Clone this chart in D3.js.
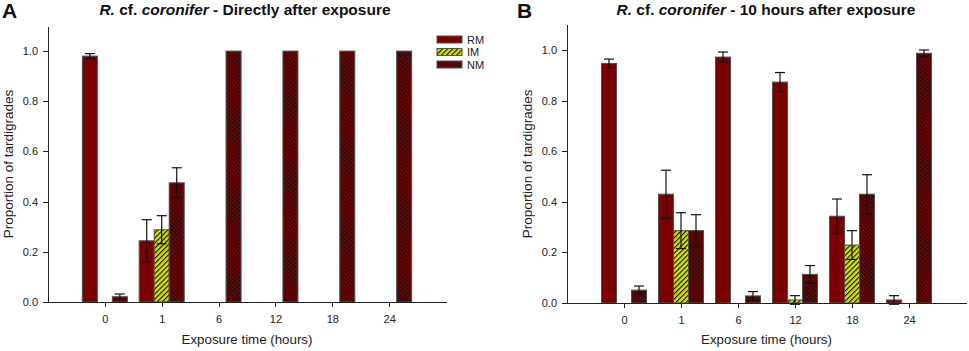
<!DOCTYPE html>
<html>
<head>
<meta charset="utf-8">
<script src="https://cdn.jsdelivr.net/npm/d3@7"></script>
<style>
  body { margin: 0; background: #fff; }
  svg { display: block; font-family: Arial, 'Liberation Sans', sans-serif; }
  .axis path, .axis line { stroke: #222; shape-rendering: crispEdges; }
  .axis text { fill: #222; font-size: 11px; }
</style>
</head>
<body>
<svg id="chart" width="969" height="351"></svg>
<script>
const width = 969,
  height = 351,
  barWidth = 15;

const times = ['0', '1', '6', '12', '18', '24'];
const series = ['RM', 'IM', 'NM'];
const yTicks = [0, 0.2, 0.4, 0.6, 0.8, 1.0];

// A - directly after exposure
const aRM = [0.98, 0.244, 0, 0, 0, 0];
const aRMErr = [0.01, 0.084, 0, 0, 0, 0];
const aIM = [0, 0.288, 0, 0, 0, 0];
const aIMErr = [0, 0.056, 0, 0, 0, 0];
const aNM = [0.021, 0.475, 1, 1, 1, 1];
const aNMErr = [0.011, 0.06, 0, 0, 0, 0];

// B - 10 hours after exposure
const bRM = [0.947, 0.43, 0.972, 0.873, 0.343, 0.012];
const bRMErr = [0.017, 0.095, 0.02, 0.038, 0.068, 0.017];
const bIM = [0, 0.286, 0, 0.012, 0.229, 0];
const bIMErr = [0, 0.071, 0, 0.017, 0.057, 0];
const bNM = [0.051, 0.286, 0.028, 0.113, 0.43, 0.987];
const bNMErr = [0.016, 0.063, 0.017, 0.035, 0.077, 0.013];

const fills = { RM: '#7d0000', IM: 'url(#hatchIM)', NM: 'url(#hatchNM)' };

const svg = d3.select('#chart');

/* hatch patterns */
const defs = svg.append('defs');
const addHatch = (id, bg, gap, angle) => {
  const p = defs
    .append('pattern')
    .attr('id', id)
    .attr('patternUnits', 'userSpaceOnUse')
    .attr('width', 8)
    .attr('height', gap)
    .attr('patternTransform', 'rotate(' + angle + ')');
  p.append('rect').attr('width', 8).attr('height', gap).attr('fill', bg);
  p.append('rect').attr('width', 8).attr('height', 1.1).attr('fill', '#111');
};
addHatch('hatchIM', '#d2de00', 3.6, -45);
addHatch('hatchNM', '#7d0000', 2.9, 45);

const panels = [
  {
    letter: 'A', sub: ' - Directly after exposure',
    left: 48, right: 446, bottom: 302, top: 26, letterX: 2, titleX: 245,
    values: [aRM, aIM, aNM], errors: [aRMErr, aIMErr, aNMErr], legend: true,
  },
  {
    letter: 'B', sub: ' - 10 hours after exposure',
    left: 567, right: 966, bottom: 303, top: 24.7, letterX: 517, titleX: 766,
    values: [bRM, bIM, bNM], errors: [bRMErr, bIMErr, bNMErr], legend: false,
  },
];

panels.forEach(p => {
  const g = svg.append('g');

  const x = d3.scaleLinear().domain([0, times.length + 1]).range([p.left, p.right]);
  const y = d3.scaleLinear().domain([0, 1.1]).range([p.bottom, p.top]);
  const inner = d3
    .scaleBand()
    .domain(series)
    .range([-1.5 * barWidth, 1.5 * barWidth]);

  /* bars */
  const bars = [];
  series.forEach((s, si) => {
    times.forEach((t, ti) => {
      bars.push({ s, ti, value: p.values[si][ti], err: p.errors[si][ti] });
    });
  });

  g.append('g')
    .selectAll('rect')
    .data(bars.filter(d => d.value > 0))
    .enter()
    .append('rect')
    .attr('x', d => x(d.ti + 1) + inner(d.s))
    .attr('y', d => y(d.value))
    .attr('width', inner.bandwidth())
    .attr('height', d => y(0) - y(d.value))
    .attr('fill', d => fills[d.s])
    .attr('stroke', '#505050')
    .attr('stroke-width', 1);

  /* error bars */
  const errs = g
    .append('g')
    .attr('stroke', '#111')
    .attr('stroke-width', 1.2)
    .selectAll('g')
    .data(bars.filter(d => d.err > 0))
    .enter()
    .append('g')
    .attr('transform', d => 'translate(' + (x(d.ti + 1) + inner(d.s) + barWidth / 2) + ',0)');
  errs.append('line')
    .attr('y1', d => y(d.value - d.err))
    .attr('y2', d => y(d.value + d.err));
  errs.append('line')
    .attr('x1', -5).attr('x2', 5)
    .attr('y1', d => y(d.value + d.err))
    .attr('y2', d => y(d.value + d.err));
  errs.append('line')
    .attr('x1', -5).attr('x2', 5)
    .attr('y1', d => y(d.value - d.err))
    .attr('y2', d => y(d.value - d.err));

  /* axes */
  g.append('g')
    .attr('class', 'axis')
    .attr('transform', 'translate(0,' + p.bottom + ')')
    .call(
      d3.axisBottom(x)
        .tickValues(times.map((t, i) => i + 1))
        .tickFormat(i => times[i - 1])
        .tickSizeInner(5)
        .tickSizeOuter(0)
        .tickPadding(8)
    );

  g.append('g')
    .attr('class', 'axis')
    .attr('transform', 'translate(' + p.left + ',0)')
    .call(
      d3.axisLeft(y)
        .tickValues(yTicks)
        .tickFormat(d3.format('.1f'))
        .tickSizeInner(5)
        .tickSizeOuter(0)
        .tickPadding(5)
    );

  /* labels */
  g.append('text')
    .attr('x', (p.left + p.right) / 2)
    .attr('y', 344)
    .attr('text-anchor', 'middle')
    .style('font-size', '13.3px')
    .style('fill', '#222')
    .text('Exposure time (hours)');

  g.append('text')
    .attr('transform', 'translate(' + (p.left - 35) + ',' + (p.bottom + p.top) / 2 + ') rotate(-90)')
    .attr('text-anchor', 'middle')
    .style('font-size', '13.5px')
    .style('fill', '#222')
    .text('Proportion of tardigrades');

  g.append('text')
    .attr('x', p.letterX)
    .attr('y', 18)
    .style('font-size', '21px')
    .style('font-weight', 'bold')
    .style('fill', '#111')
    .text(p.letter);

  const title = g
    .append('text')
    .attr('x', p.titleX)
    .attr('y', 15)
    .attr('text-anchor', 'middle')
    .style('font-size', '15.5px')
    .style('font-weight', 'bold')
    .style('fill', '#111');
  title.append('tspan').style('font-style', 'italic').text('R.');
  title.append('tspan').text(' cf. ');
  title.append('tspan').style('font-style', 'italic').text('coronifer');
  title.append('tspan').text(p.sub);

  /* legend */
  if (p.legend) {
    const lg = g
      .append('g')
      .selectAll('g')
      .data(series)
      .enter()
      .append('g')
      .attr('transform', (d, i) => 'translate(437,' + (36 + i * 12.5) + ')');
    lg.append('rect')
      .attr('width', 25)
      .attr('height', 7)
      .attr('fill', d => fills[d])
      .attr('stroke', '#505050');
    lg.append('text')
      .attr('x', 30)
      .attr('y', 4)
      .attr('dy', '0.35em')
      .style('font-size', '11px')
      .style('fill', '#222')
      .text(d => d);
  }
});
</script>
</body>
</html>
